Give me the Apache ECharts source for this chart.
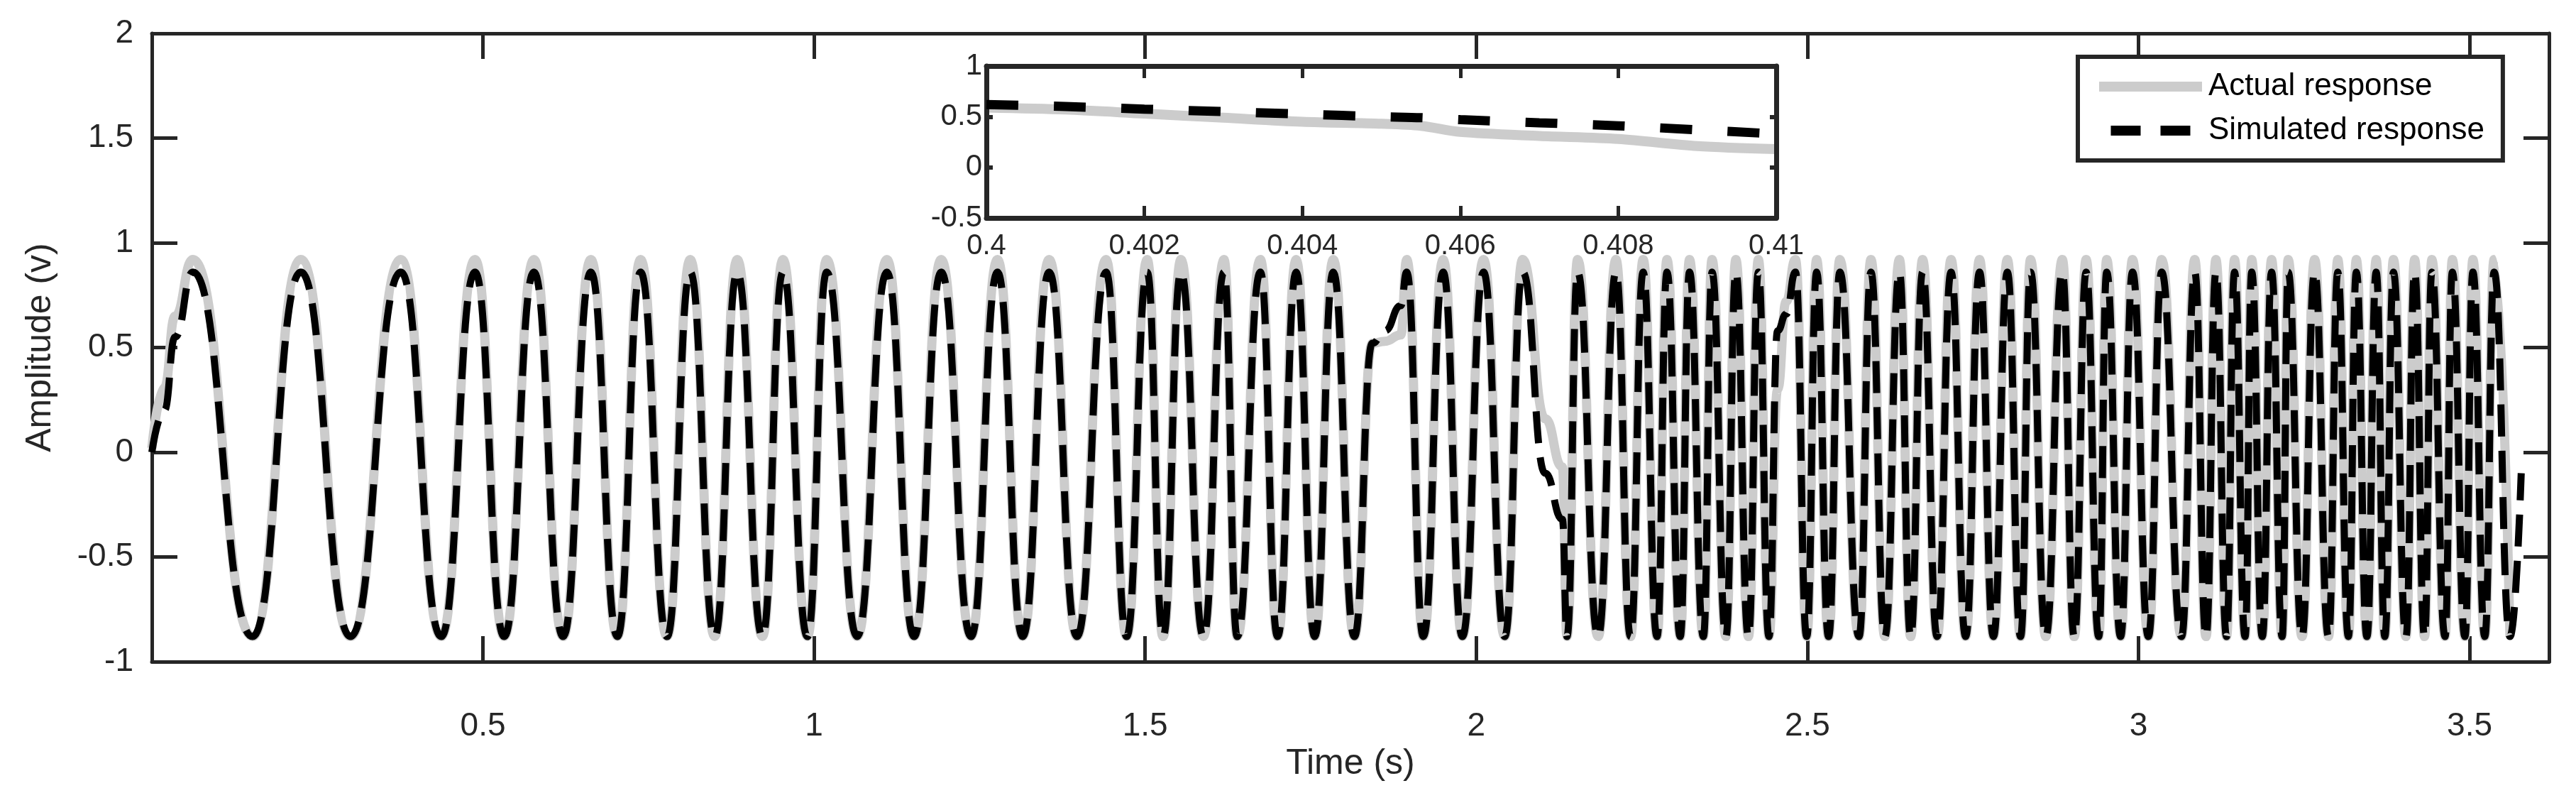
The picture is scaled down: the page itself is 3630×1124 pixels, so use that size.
<!DOCTYPE html>
<html>
<head>
<meta charset="utf-8">
<script src="https://cdn.jsdelivr.net/npm/echarts@6/dist/echarts.min.js"></script>
<style>
  html, body { margin: 0; padding: 0; background: #fff; }
  #chart { width: 3630px; height: 1124px; }
</style>
</head>
<body>
<div id="chart"></div>
<script>
// time of each read point (s): mostly crests and troughs of the oscillation
const timeS = [
  0.000, 0.019, 0.035,
  0.062, 0.152, 0.225, 0.300, 0.376, 0.437, 0.488, 0.532, 0.577, 0.621,
  0.663, 0.703, 0.738, 0.778, 0.813, 0.850, 0.884, 0.922, 0.953, 0.990,
  1.019, 1.065, 1.110, 1.151, 1.192, 1.237, 1.277, 1.315, 1.355, 1.397,
  1.441, 1.472, 1.503, 1.527, 1.554, 1.588, 1.619, 1.639, 1.674, 1.700,
  1.728, 1.756, 1.784, 1.816,
  1.843, 1.862, 1.886,
  1.895, 1.920, 1.950, 1.979, 2.011, 2.043, 2.070,
  2.104, 2.130,
  2.137, 2.153, 2.184, 2.211, 2.233, 2.252, 2.273, 2.288, 2.308, 2.322,
  2.343, 2.356, 2.377, 2.392, 2.411, 2.426, 2.442,
  2.455, 2.468,
  2.482, 2.499, 2.514, 2.532, 2.549, 2.578, 2.596, 2.617, 2.639, 2.656,
  2.674, 2.696, 2.717, 2.739, 2.760, 2.781, 2.802, 2.822, 2.837, 2.860,
  2.885, 2.903, 2.921, 2.940, 2.952, 2.973, 2.991, 3.015, 3.035, 3.065,
  3.085, 3.102, 3.117, 3.133, 3.145, 3.161, 3.171, 3.187, 3.201, 3.217,
  3.226, 3.247, 3.266, 3.287, 3.301, 3.317, 3.329, 3.345, 3.359, 3.372,
  3.385, 3.404, 3.417, 3.432, 3.443, 3.463, 3.474, 3.493, 3.505, 3.523,
  3.537, 3.561,
  3.578
];

const actualV = [
  0.02, 0.31, 0.65,
  0.92, -0.88, 0.92, -0.88, 0.92, -0.88, 0.92, -0.88, 0.92, -0.88,
  0.92, -0.88, 0.92, -0.88, 0.92, -0.88, 0.92, -0.88, 0.92, -0.88,
  0.92, -0.88, 0.92, -0.88, 0.92, -0.88, 0.92, -0.88, 0.92, -0.88,
  0.92, -0.88, 0.92, -0.88, 0.92, -0.88, 0.92, -0.88, 0.92, -0.88,
  0.92, -0.88, 0.92, -0.88,
  0.52, 0.53, 0.56,
  0.92, -0.88, 0.92, -0.88, 0.92, -0.88, 0.92,
  0.16, -0.07,
  -0.88, 0.92, -0.88, 0.92, -0.88, 0.92, -0.88, 0.92, -0.88, 0.92,
  -0.88, 0.92, -0.88, 0.92, -0.88, 0.92, -0.88,
  0.30, 0.72,
  0.92, -0.88, 0.92, -0.88, 0.92, -0.88, 0.92, -0.88, 0.92, -0.88,
  0.92, -0.88, 0.92, -0.88, 0.92, -0.88, 0.92, -0.88, 0.92, -0.88,
  0.92, -0.88, 0.92, -0.88, 0.92, -0.88, 0.92, -0.88, 0.92, -0.88,
  0.92, -0.88, 0.92, -0.88, 0.92, -0.88, 0.92, -0.88, 0.92, -0.88,
  0.92, -0.88, 0.92, -0.88, 0.92, -0.88, 0.92, -0.88, 0.92, -0.88,
  0.92, -0.88, 0.92, -0.88, 0.92, -0.88, 0.92, -0.88, 0.92, -0.88,
  0.92, -0.88,
  null
];

const simV = [
  0.00, 0.20, 0.55,
  0.86, -0.88, 0.86, -0.88, 0.86, -0.88, 0.86, -0.88, 0.86, -0.88,
  0.86, -0.88, 0.86, -0.88, 0.86, -0.88, 0.86, -0.88, 0.86, -0.88,
  0.86, -0.88, 0.86, -0.88, 0.86, -0.88, 0.86, -0.88, 0.86, -0.88,
  0.86, -0.88, 0.86, -0.88, 0.86, -0.88, 0.86, -0.88, 0.86, -0.88,
  0.86, -0.88, 0.86, -0.88,
  0.52, 0.58, 0.70,
  0.86, -0.88, 0.86, -0.88, 0.86, -0.88, 0.86,
  -0.10, -0.32,
  -0.88, 0.86, -0.88, 0.86, -0.88, 0.86, -0.88, 0.86, -0.88, 0.86,
  -0.88, 0.86, -0.88, 0.86, -0.88, 0.86, -0.88,
  0.58, 0.66,
  0.86, -0.88, 0.86, -0.88, 0.86, -0.88, 0.86, -0.88, 0.86, -0.88,
  0.86, -0.88, 0.86, -0.88, 0.86, -0.88, 0.86, -0.88, 0.86, -0.88,
  0.86, -0.88, 0.86, -0.88, 0.86, -0.88, 0.86, -0.88, 0.86, -0.88,
  0.86, -0.88, 0.86, -0.88, 0.86, -0.88, 0.86, -0.88, 0.86, -0.88,
  0.86, -0.88, 0.86, -0.88, 0.86, -0.88, 0.86, -0.88, 0.86, -0.88,
  0.86, -0.88, 0.86, -0.88, 0.86, -0.88, 0.86, -0.88, 0.86, -0.88,
  0.86, -0.88,
  -0.10
];

// inset: zoom on 0.4 .. 0.41 s
const insetT      = [0.400, 0.401, 0.402, 0.403, 0.404, 0.405, 0.4055, 0.406, 0.407, 0.408, 0.409, 0.410];
const insetActual = [0.59, 0.57, 0.53, 0.49, 0.45, 0.43, 0.41, 0.35, 0.31, 0.28, 0.21, 0.18];
const insetSim    = [0.62, 0.60, 0.575, 0.55, 0.525, 0.50, 0.49, 0.47, 0.44, 0.41, 0.37, 0.33];

const names = ['Actual response', 'Simulated response'];

const zip = (xs, ys) => xs.map((x, i) => [x, ys[i]]);

const ink = '#262626';
const font = 'Liberation Sans, Arial, sans-serif';

const chart = echarts.init(document.getElementById('chart'));

const boxAxis = (extra) => Object.assign({
  type: 'value',
  axisLine: { show: true, onZero: false, lineStyle: { color: ink, width: 5 } },
  axisTick: { show: true, inside: true, length: 36, lineStyle: { color: ink, width: 5 } },
  splitLine: { show: false },
  axisLabel: { show: false }
}, extra);

const labelStyle = (size, margin) => ({
  show: true, color: ink, fontSize: size, fontFamily: font, margin: margin,
  showMinLabel: false, showMaxLabel: false
});

const insetLine = { show: true, onZero: false, lineStyle: { color: ink, width: 7 } };

chart.setOption({
  animation: false,
  backgroundColor: '#fff',
  grid: [
    { left: 214, right: 38, top: 47, bottom: 192 },
    { left: 1390, top: 93, width: 1113, height: 214, show: true,
      backgroundColor: '#fff', borderWidth: 0, z: 10 }
  ],
  legend: {
    data: [
      { name: names[0], icon: 'rect', itemStyle: { color: '#cccccc', borderWidth: 0 } },
      { name: names[1], icon: 'path://M0,0h3v1h-3zM5,0h3v1h-3z', itemStyle: { color: '#000', borderWidth: 0 } }
    ],
    orient: 'vertical',
    left: 2928, top: 80,
    backgroundColor: '#fff',
    borderColor: ink, borderWidth: 6, borderRadius: 0,
    padding: [20, 26, 20, 30],
    itemGap: 18,
    itemWidth: 145, itemHeight: 14,
    textStyle: { color: '#000', fontSize: 44, fontFamily: font, padding: [0, 0, 0, 4] },
    z: 20
  },
  xAxis: [
    boxAxis({ gridIndex: 0, position: 'bottom', min: 0, max: 3.62, interval: 0.5,
      name: 'Time (s)', nameLocation: 'middle', nameGap: 118,
      nameTextStyle: { color: ink, fontSize: 50, fontFamily: font },
      axisLabel: labelStyle(46, 68) }),
    boxAxis({ gridIndex: 0, position: 'top', min: 0, max: 3.62, interval: 0.5 }),
    boxAxis({ gridIndex: 1, position: 'bottom', min: 0.4, max: 0.41, interval: 0.002, z: 12,
      axisLine: insetLine,
      axisTick: { show: true, inside: true, length: 17, lineStyle: { color: ink, width: 5 } },
      axisLabel: { show: true, color: ink, fontSize: 40, fontFamily: font, margin: 20,
        formatter: v => String(+v.toFixed(3)) } }),
    boxAxis({ gridIndex: 1, position: 'top', min: 0.4, max: 0.41, interval: 0.002, z: 12,
      axisLine: insetLine,
      axisTick: { show: true, inside: true, length: 17, lineStyle: { color: ink, width: 5 } } })
  ],
  yAxis: [
    boxAxis({ gridIndex: 0, position: 'left', min: -1, max: 2, interval: 0.5,
      name: 'Amplitude (v)', nameLocation: 'middle', nameGap: 132,
      nameTextStyle: { color: ink, fontSize: 50, fontFamily: font },
      axisLabel: { show: true, color: ink, fontSize: 46, fontFamily: font, margin: 26 } }),
    boxAxis({ gridIndex: 0, position: 'right', min: -1, max: 2, interval: 0.5 }),
    boxAxis({ gridIndex: 1, position: 'left', min: -0.5, max: 1, interval: 0.5, z: 12,
      axisLine: insetLine,
      axisTick: { show: true, inside: true, length: 9, lineStyle: { color: ink, width: 6 } },
      axisLabel: { show: true, color: ink, fontSize: 42, fontFamily: font, margin: 6 } }),
    boxAxis({ gridIndex: 1, position: 'right', min: -0.5, max: 1, interval: 0.5, z: 12,
      axisLine: insetLine,
      axisTick: { show: true, inside: true, length: 9, lineStyle: { color: ink, width: 6 } } })
  ],
  series: [
    { name: names[0], type: 'line', xAxisIndex: 0, yAxisIndex: 0,
      data: zip(timeS, actualV), showSymbol: false, symbol: 'none',
      smooth: 0.5, smoothMonotone: 'x', connectNulls: false,
      lineStyle: { color: '#cccccc', width: 13 }, itemStyle: { color: '#cccccc' }, z: 2 },
    { name: names[1], type: 'line', xAxisIndex: 0, yAxisIndex: 0,
      data: zip(timeS, simV), showSymbol: false, symbol: 'none',
      smooth: 0.5, smoothMonotone: 'x',
      lineStyle: { color: '#000', width: 10, type: [45, 20] }, itemStyle: { color: '#000' }, z: 3 },
    { name: names[0], type: 'line', xAxisIndex: 2, yAxisIndex: 2,
      data: zip(insetT, insetActual), showSymbol: false, symbol: 'none', smooth: 0.3,
      lineStyle: { color: '#cccccc', width: 14 }, z: 11 },
    { name: names[1], type: 'line', xAxisIndex: 2, yAxisIndex: 2,
      data: zip(insetT, insetSim), showSymbol: false, symbol: 'none', smooth: 0.3,
      lineStyle: { color: '#000', width: 13, type: [45, 50] }, z: 12 }
  ]
});
</script>
</body>
</html>
